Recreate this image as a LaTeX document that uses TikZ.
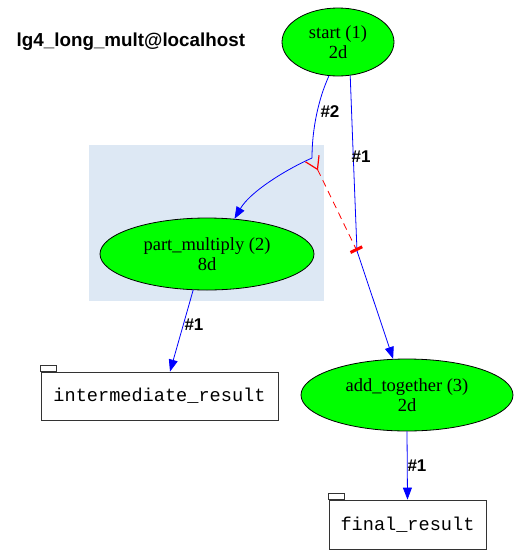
\documentclass[tikz,border=0pt]{standalone}
\usepackage{fontspec}
\setmainfont{Liberation Serif}
\setsansfont{Liberation Sans}
\setmonofont{Liberation Mono}
\usetikzlibrary{shapes.geometric,arrows.meta}
\definecolor{cluster_blue}{RGB}{221,232,244}

\begin{document}
\begin{tikzpicture}[x=1pt, y=-1pt, line width=0.8pt,
  task_style/.style={ellipse,draw=black,fill=green,inner sep=0pt,align=center,font=\fontsize{18.5}{20}\selectfont},
  file_style/.style={rectangle,draw=black!80,fill=white,inner sep=0pt,font=\ttfamily\fontsize{18.6}{20}\selectfont},
  edge_style/.style={draw=blue,-{Triangle[length=12pt,width=9pt]}},
  label_style/.style={font=\sffamily\bfseries\fontsize{17}{19}\selectfont}]
      \useasboundingbox (0,0) rectangle (519,555);
      \fill[cluster_blue] (89,145) rectangle (324,301);
      \node[anchor=west,font=\sffamily\bfseries\fontsize{18.8}{20}\selectfont] (title) at (13,42) {lg4\_long\_mult@localhost};
      \draw
        (338,42) node[task_style,minimum width=112pt,minimum height=68pt] (1){start (1)\\2d}
        (207,254) node[task_style,minimum width=214pt,minimum height=72pt] (2){part\_multiply (2)\\8d}
        (407,395) node[task_style,minimum width=212pt,minimum height=72pt] (3){add\_together (3)\\2d}
        (159.5,396) node[file_style,minimum width=237pt,minimum height=48pt] (4){intermediate\_result}
        (407.5,524.5) node[file_style,minimum width=157pt,minimum height=49pt] (5){final\_result};
      % folder tabs
      \draw[black!80] (4.north west) rectangle ++(16,-6);
      \draw[black!80] (5.north west) rectangle ++(16,-6);
      % bends of the two start edges
      \coordinate (a) at (312,158);
      \coordinate (b) at (357,251);
      \draw[blue] (1.255) .. controls (318,100) and (312,130) .. (a);
      \draw[edge_style] (a) .. controls (285,170) and (250,192) .. (2.52);
      \draw[blue] (1.290) .. controls (353,150) .. (b);
      \draw[edge_style] (b) -- (3.111);
      \draw[edge_style] (2.249) -- ([xshift=10.5pt]4.north);
      \draw[edge_style] (3.south) -- (5.north);
      \draw[red, dash pattern=on 7pt off 5pt, {Straight Barb[reversed,length=12pt,width=15pt,line width=1.2pt]}-{Bar[width=13pt,line width=3pt]}] (a) -- (b);
      \node[label_style] at (330,112) {\#2};
      \node[label_style] at (361,157) {\#1};
      \node[label_style] at (194,325) {\#1};
      \node[label_style] at (417,466) {\#1};
    \end{tikzpicture}
\end{document}
